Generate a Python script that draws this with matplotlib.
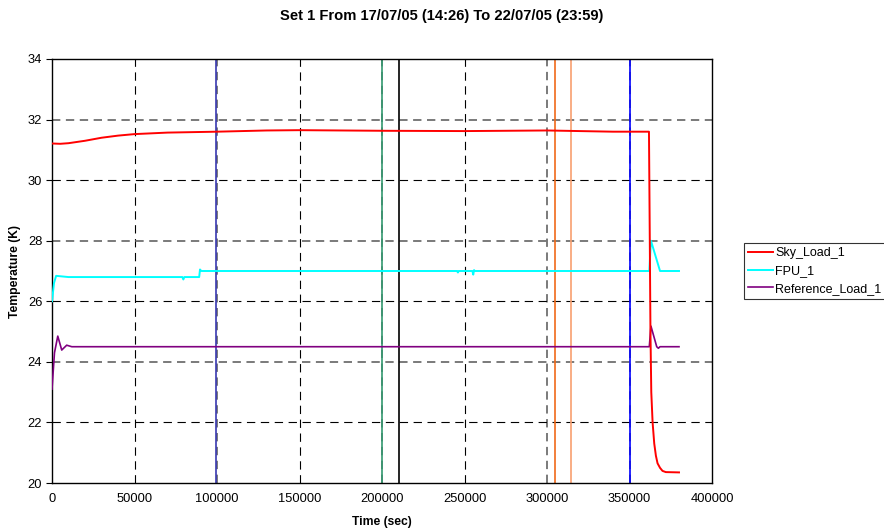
import matplotlib
matplotlib.use("Agg")
import matplotlib.pyplot as plt

plt.rcParams['font.family'] = ['Liberation Sans', 'DejaVu Sans']
plt.rcParams['lines.scale_dashes'] = False

# ---- data ----
sky_t = [0, 5000, 10000, 20000, 30000, 40000, 50000, 70000, 100000, 130000, 150000,
         200000, 250000, 300000, 340000, 361800, 362300, 362700, 363200, 364000,
         365000, 366000, 367000, 368500, 370000, 372000, 380000]
sky_v = [31.21, 31.20, 31.22, 31.30, 31.40, 31.47, 31.52, 31.57, 31.60, 31.64, 31.65,
         31.63, 31.62, 31.64, 31.60, 31.60, 28.0, 25.0, 23.0, 22.0,
         21.3, 20.9, 20.65, 20.5, 20.4, 20.36, 20.35]

fpu_t = [0, 1200, 2500, 10000, 79000, 79600, 80200, 89200, 89700, 90500, 245500, 246000,
         246500, 254800, 255300, 255800, 256200, 362000, 363000, 368500, 380000]
fpu_v = [26.0, 26.6, 26.84, 26.8, 26.8, 26.72, 26.8, 26.8, 27.05, 27.0, 27.0, 26.95,
         27.0, 27.0, 26.88, 27.03, 27.0, 27.0, 28.0, 27.0, 27.0]

ref_t = [0, 1500, 3500, 5900, 8900, 12000, 362000, 363000, 366500, 367500, 368500, 380000]
ref_v = [23.1, 24.3, 24.85, 24.39, 24.55, 24.5, 24.5, 25.18, 24.5, 24.45, 24.5, 24.5]

# vertical marker lines (position, colour)
vlines_x = [99500, 200000, 210500, 305000, 314500, 350300]
vlines_c = ['#3838b0', '#339970', '#000000', '#f06a1a', '#f8a070', '#0000ff']

xticks = [0, 50000, 100000, 150000, 200000, 250000, 300000, 350000, 400000]
yticks = [20, 22, 24, 26, 28, 30, 32, 34]

title = "Set 1 From 17/07/05 (14:26) To 22/07/05 (23:59)"

fig = plt.figure(figsize=(8.84, 5.31), dpi=100)
ax = fig.add_axes([52/884, 1-483/531, (712-52)/884, (483-59)/531])

ax.set_xlim(0, 400000)
ax.set_ylim(20, 34)

# grid lines: alternating gray/black dashed like the reference
for xt in xticks[1:-1]:
    if xt in (100000, 200000, 300000, 350000):
        ax.axvline(xt, color='#707070', lw=1.3, ls=(0, (6, 4)), zorder=1)
    else:
        ax.axvline(xt, color='#000000', lw=0.8, ls=(0, (6, 4)), zorder=1)
for yt in yticks[1:-1]:
    if yt in (24, 28, 32):
        ax.axhline(yt, color='#707070', lw=1.3, ls=(0, (6, 4)), zorder=1)
    else:
        ax.axhline(yt, color='#000000', lw=0.8, ls=(0, (6, 4)), zorder=1)

for xv, c in zip(vlines_x, vlines_c):
    ax.axvline(xv, color=c, lw=1.2, zorder=2)

ax.plot(sky_t, sky_v, color='#ff0000', lw=1.4, label='Sky_Load_1', zorder=4)
ax.plot(fpu_t, fpu_v, color='#00ffff', lw=1.4, label='FPU_1', zorder=3)
ax.plot(ref_t, ref_v, color='#800080', lw=1.2, label='Reference_Load_1', zorder=3)

ax.set_xticks(xticks)
ax.set_xticklabels([str(v) for v in xticks])
ax.set_yticks(yticks)
ax.tick_params(axis='x', length=0, pad=7, labelsize=9.3)
ax.tick_params(axis='y', length=4, direction='out', pad=3, labelsize=9.3)
for s in ax.spines.values():
    s.set_linewidth(1.0)
    s.set_color('black')

ax.set_xlabel('Time (sec)', fontsize=8.7, fontweight='bold', labelpad=8)
ax.set_ylabel('Temperature (K)', fontsize=8.7, fontweight='bold', labelpad=5)
fig.text(0.5, 1-16/531, title, ha='center', va='center', fontsize=10.6, fontweight='bold')

leg = fig.legend(loc='upper left', bbox_to_anchor=(744/884, 1-243/531), fontsize=9,
                 frameon=True, fancybox=False, edgecolor='black', handlelength=2.0,
                 borderpad=0.35, labelspacing=0.45, handletextpad=0.15, borderaxespad=0)
leg.get_frame().set_linewidth(0.8)

fig.savefig('out.png', dpi=100)
